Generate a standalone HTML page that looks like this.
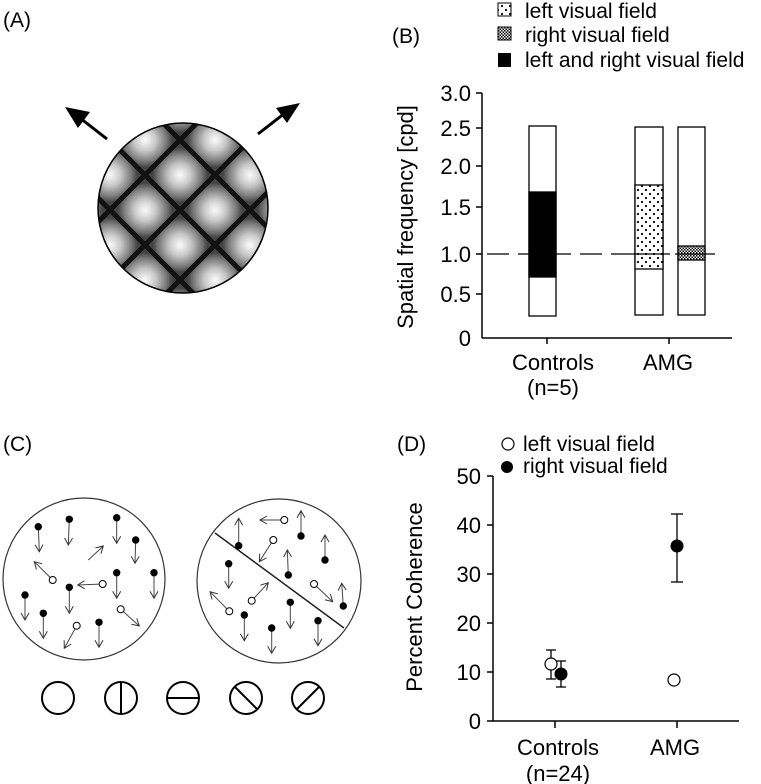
<!DOCTYPE html>
<html><head><meta charset="utf-8"><style>
html,body{margin:0;padding:0;background:#fff;}
svg{display:block;font-family:"Liberation Sans",Arial,sans-serif;}
</style></head><body>
<svg width="761" height="784" viewBox="0 0 761 784" xmlns="http://www.w3.org/2000/svg">
<defs>
<radialGradient id="cell" cx="50%" cy="50%" r="55%">
<stop offset="0" stop-color="#fcfcfc"/><stop offset="0.4" stop-color="#c8c8c8"/><stop offset="0.8" stop-color="#777"/><stop offset="1" stop-color="#444"/>
</radialGradient>
<pattern id="plaid" width="49.5" height="49.5" patternUnits="userSpaceOnUse" patternTransform="translate(180,210) rotate(45)">
<rect width="49.5" height="49.5" fill="url(#cell)"/>
<rect width="49.5" height="49.5" fill="none" stroke="#111" stroke-width="5"/>
</pattern>
<clipPath id="cc"><circle cx="183" cy="208" r="85"/></clipPath>
<pattern id="dots" width="8" height="8" patternUnits="userSpaceOnUse">
<rect width="8" height="8" fill="#fff"/><circle cx="2" cy="2" r="1.1" fill="#000"/><circle cx="6" cy="6" r="1.1" fill="#000"/>
</pattern>
<pattern id="check" width="3" height="3" patternUnits="userSpaceOnUse">
<rect width="3" height="3" fill="#fff"/><rect width="1.5" height="1.5" fill="#000"/><rect x="1.5" y="1.5" width="1.5" height="1.5" fill="#000"/>
</pattern>
<marker id="ah" markerWidth="10" markerHeight="10" refX="8" refY="5" orient="auto" markerUnits="userSpaceOnUse">
<path d="M1,1 L8,5 L1,9" fill="none" stroke="#333" stroke-width="1"/>
</marker>
</defs>

<!-- Panel A -->
<text x="3" y="27" font-size="21">(A)</text>
<g clip-path="url(#cc)"><rect x="90" y="115" width="190" height="190" fill="url(#plaid)"/></g>
<circle cx="183" cy="208" r="85" fill="none" stroke="#000" stroke-width="1.5"/>
<line x1="107" y1="139" x2="80" y2="118" stroke="#000" stroke-width="3"/>
<polygon points="65,107 90,112 78,128" fill="#000"/>
<line x1="258" y1="134" x2="285" y2="113" stroke="#000" stroke-width="3"/>
<polygon points="300,103 276,108 287,123" fill="#000"/>

<!-- Panel B -->
<text x="392" y="43" font-size="21">(B)</text>
<rect x="498" y="3" width="13" height="13" fill="url(#dots)" stroke="#000"/>
<text x="525" y="18" font-size="21">left visual field</text>
<rect x="498" y="27" width="13" height="13" fill="url(#check)" stroke="#000"/>
<text x="525" y="42" font-size="21">right visual field</text>
<rect x="498" y="53" width="13" height="14" fill="#000"/>
<text x="525" y="67" font-size="21">left and right visual  field</text>
<g stroke="#000" stroke-width="1.5">
<line x1="482" y1="93" x2="482" y2="338"/>
<line x1="482" y1="338" x2="732" y2="338"/>
<line x1="476" y1="93" x2="482" y2="93"/><line x1="476" y1="128" x2="482" y2="128"/>
<line x1="476" y1="166" x2="482" y2="166"/><line x1="476" y1="207" x2="482" y2="207"/>
<line x1="476" y1="254" x2="482" y2="254"/><line x1="476" y1="294" x2="482" y2="294"/>
<line x1="547" y1="338" x2="547" y2="344"/><line x1="669" y1="338" x2="669" y2="344"/>
</g>
<g font-size="22" text-anchor="end">
<text x="471" y="101">3.0</text><text x="471" y="136">2.5</text><text x="471" y="174">2.0</text>
<text x="471" y="215">1.5</text><text x="471" y="262">1.0</text><text x="471" y="302">0.5</text><text x="471" y="346">0</text>
</g>
<text transform="translate(413,217) rotate(-90)" font-size="22" text-anchor="middle">Spatial frequency [cpd]</text>
<text x="553" y="370" font-size="22" text-anchor="middle">Controls</text>
<text x="553" y="395" font-size="22" text-anchor="middle">(n=5)</text>
<text x="668" y="370" font-size="22" text-anchor="middle">AMG</text>
<g stroke="#000" stroke-width="1.3">
<rect x="529" y="126" width="27" height="190" fill="#fff"/>
<rect x="529" y="192" width="27" height="85" fill="#000"/>
<rect x="635" y="127" width="28" height="188" fill="#fff"/>
<rect x="635" y="185" width="28" height="84" fill="url(#dots)"/>
<rect x="678" y="127" width="27" height="188" fill="#fff"/>
<rect x="678" y="246" width="27" height="14" fill="url(#check)"/>
</g>
<line x1="487" y1="254" x2="630" y2="254" stroke="#000" stroke-width="1.3" stroke-dasharray="22,9"/>
<line x1="630" y1="254" x2="718" y2="254" stroke="#000" stroke-width="1.3" stroke-dasharray="40,5"/>

<!-- Panel C -->
<text x="3" y="451" font-size="21">(C)</text>
<circle cx="84" cy="579" r="81" fill="none" stroke="#333" stroke-width="1.2"/>
<circle cx="279" cy="581" r="82" fill="none" stroke="#333" stroke-width="1.2"/>
<line x1="215" y1="533" x2="344" y2="628" stroke="#222" stroke-width="1.5"/>
<g stroke="#444" stroke-width="1" marker-end="url(#ah)">
<line x1="38.3" y1="526.7" x2="39.3" y2="551.7"/>
<line x1="69.3" y1="519.3" x2="68.3" y2="545"/>
<line x1="116.7" y1="517.7" x2="116.7" y2="543.3"/>
<line x1="135.7" y1="540" x2="135" y2="563.3"/>
<line x1="88.3" y1="560" x2="103.3" y2="546"/>
<line x1="52.7" y1="580" x2="34.3" y2="561.7"/>
<line x1="69.3" y1="587.3" x2="69.3" y2="613.3"/>
<line x1="102.7" y1="584" x2="77.7" y2="585"/>
<line x1="116.7" y1="572.7" x2="116.7" y2="598.3"/>
<line x1="154" y1="572.7" x2="154" y2="598.3"/>
<line x1="25" y1="595" x2="25" y2="620"/>
<line x1="43.3" y1="613.3" x2="43.3" y2="638.3"/>
<line x1="76.7" y1="625.7" x2="64.3" y2="648.3"/>
<line x1="99" y1="622.3" x2="99" y2="647.3"/>
<line x1="120.7" y1="609.3" x2="139.3" y2="626"/>
<line x1="238.7" y1="545.7" x2="238.7" y2="518.3"/>
<line x1="284.3" y1="520" x2="260" y2="520"/>
<line x1="301" y1="536" x2="301" y2="510.7"/>
<line x1="273.3" y1="540" x2="259.3" y2="561.7"/>
<line x1="325" y1="560" x2="325" y2="535"/>
<line x1="288.3" y1="575" x2="287.3" y2="550"/>
<line x1="228.7" y1="563.7" x2="228.7" y2="588.3"/>
<line x1="314" y1="584" x2="332.7" y2="601.7"/>
<line x1="343.3" y1="606" x2="341.7" y2="583.3"/>
<line x1="251.7" y1="600.7" x2="268.3" y2="582.7"/>
<line x1="229.3" y1="611.3" x2="210" y2="591.7"/>
<line x1="244.3" y1="615" x2="244.3" y2="640.7"/>
<line x1="290.3" y1="602.3" x2="290.3" y2="628.3"/>
<line x1="271.7" y1="628" x2="271.7" y2="653.3"/>
<line x1="318" y1="620.7" x2="318" y2="645.7"/>
</g>
<g fill="#000">
<circle cx="38.3" cy="526.7" r="3.7"/><circle cx="69.3" cy="519.3" r="3.7"/><circle cx="116.7" cy="517.7" r="3.7"/>
<circle cx="135.7" cy="540" r="3.7"/><circle cx="69.3" cy="587.3" r="3.7"/><circle cx="116.7" cy="572.7" r="3.7"/>
<circle cx="154" cy="572.7" r="3.7"/><circle cx="25" cy="595" r="3.7"/><circle cx="43.3" cy="613.3" r="3.7"/>
<circle cx="99" cy="622.3" r="3.7"/>
<circle cx="238.7" cy="545.7" r="3.7"/><circle cx="301" cy="536" r="3.7"/><circle cx="325" cy="560" r="3.7"/>
<circle cx="288.3" cy="575" r="3.7"/><circle cx="228.7" cy="563.7" r="3.7"/><circle cx="343.3" cy="606" r="3.7"/>
<circle cx="244.3" cy="615" r="3.7"/><circle cx="290.3" cy="602.3" r="3.7"/><circle cx="271.7" cy="628" r="3.7"/>
<circle cx="318" cy="620.7" r="3.7"/>
</g>
<g fill="#fff" stroke="#000" stroke-width="1">
<circle cx="52.7" cy="580" r="3.5"/><circle cx="102.7" cy="584" r="3.5"/><circle cx="76.7" cy="625.7" r="3.5"/>
<circle cx="120.7" cy="609.3" r="3.5"/><circle cx="284.3" cy="520" r="3.5"/><circle cx="273.3" cy="540" r="3.5"/>
<circle cx="314" cy="584" r="3.5"/><circle cx="251.7" cy="600.7" r="3.5"/><circle cx="229.3" cy="611.3" r="3.5"/>
</g>
<g fill="none" stroke="#000" stroke-width="2">
<circle cx="58" cy="698" r="16"/>
<circle cx="121" cy="698" r="16"/><line x1="121" y1="682" x2="121" y2="714"/>
<circle cx="183" cy="698" r="16"/><line x1="167" y1="698" x2="199" y2="698"/>
<circle cx="246" cy="698" r="16"/><line x1="235" y1="687" x2="257" y2="709"/>
<circle cx="308" cy="698" r="16"/><line x1="297" y1="709" x2="319" y2="687"/>
</g>

<!-- Panel D -->
<text x="397" y="451" font-size="21">(D)</text>
<circle cx="508" cy="444" r="6" fill="#fff" stroke="#000" stroke-width="1.2"/>
<text x="523" y="451" font-size="21">left visual field</text>
<circle cx="507" cy="467" r="6" fill="#000"/>
<text x="523" y="473" font-size="21">right visual field</text>
<g stroke="#000" stroke-width="1.5">
<line x1="493" y1="476" x2="493" y2="721"/>
<line x1="487" y1="721" x2="739" y2="721"/>
<line x1="487" y1="476" x2="493" y2="476"/><line x1="487" y1="525" x2="493" y2="525"/>
<line x1="487" y1="574" x2="493" y2="574"/><line x1="487" y1="623" x2="493" y2="623"/>
<line x1="487" y1="672" x2="493" y2="672"/>
<line x1="555" y1="721" x2="555" y2="728"/><line x1="677" y1="721" x2="677" y2="728"/>
</g>
<g font-size="22" text-anchor="end">
<text x="481" y="484">50</text><text x="481" y="533">40</text><text x="481" y="582">30</text>
<text x="481" y="631">20</text><text x="481" y="680">10</text><text x="481" y="729">0</text>
</g>
<text transform="translate(422,597) rotate(-90)" font-size="22" text-anchor="middle">Percent Coherence</text>
<text x="558" y="755" font-size="22" text-anchor="middle">Controls</text>
<text x="558" y="781" font-size="22" text-anchor="middle">(n=24)</text>
<text x="675" y="755" font-size="22" text-anchor="middle">AMG</text>
<g stroke="#000" stroke-width="1.3">
<line x1="551" y1="650" x2="551" y2="679"/><line x1="546" y1="650" x2="556" y2="650"/><line x1="546" y1="679" x2="556" y2="679"/>
<line x1="561" y1="661" x2="561" y2="687"/><line x1="556" y1="661" x2="566" y2="661"/><line x1="556" y1="687" x2="566" y2="687"/>
<line x1="677" y1="514" x2="677" y2="582"/><line x1="671" y1="514" x2="683" y2="514"/><line x1="671" y1="582" x2="683" y2="582"/>
</g>
<circle cx="551" cy="664" r="6" fill="#fff" stroke="#000" stroke-width="1.2"/>
<circle cx="561" cy="674" r="6.5" fill="#000"/>
<circle cx="677" cy="546" r="6.5" fill="#000"/>
<circle cx="674" cy="680" r="6" fill="#fff" stroke="#000" stroke-width="1.2"/>
</svg>
</body></html>
